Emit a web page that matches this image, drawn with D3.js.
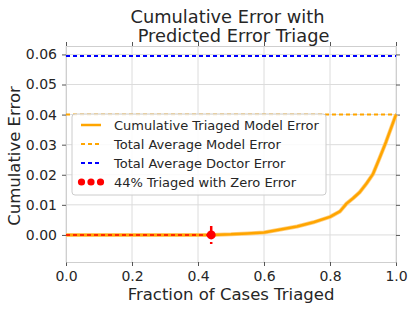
<!DOCTYPE html>
<html>
<head>
<meta charset="utf-8">
<script src="https://cdn.jsdelivr.net/npm/d3@7"></script>
<style>
  body { margin: 0; background: #fff; }
  text { font-family: "DejaVu Sans", sans-serif; fill: #262626; }
</style>
</head>
<body>
<div class="container"></div>
<script>
// data
const fraction = [0, 0.44, 0.5, 0.55, 0.6, 0.65, 0.7, 0.75, 0.8, 0.83, 0.85, 0.87, 0.89, 0.91, 0.93, 0.95, 0.97, 0.99, 1.0]
const cumError = [0, 0, 0.0002, 0.0005, 0.0008, 0.0018, 0.0028, 0.0042, 0.006, 0.0078, 0.0104, 0.0122, 0.0142, 0.017, 0.0202, 0.0255, 0.031, 0.037, 0.040]
const avgModelError = 0.040
const avgDoctorError = 0.0595
const triagedFraction = 0.44
const triagedSpread = 0.003
const xTicks = [0, 0.2, 0.4, 0.6, 0.8, 1.0]
const yTicks = [0, 0.01, 0.02, 0.03, 0.04, 0.05, 0.06]
const legendLabels = ["Cumulative Triaged Model Error", "Total Average Model Error", "Total Average Doctor Error", "44% Triaged with Zero Error"]

const width = 415, height = 312
const m = {left: 66, right: 19, top: 46, bottom: 50}

const svg = d3.select(".container").append("svg")
    .attr("width", width)
    .attr("height", height)

const x = d3.scaleLinear().domain([0, 1]).range([m.left, width - m.right])
const y = d3.scaleLinear().domain([-0.009, 0.0628]).range([height - m.bottom, m.top])

const grid = "#dcdcdc"
const tickCol = "#555"

// grid lines
svg.append("g").selectAll("line").data(xTicks).enter().append("line")
    .attr("x1", d => x(d)).attr("x2", d => x(d))
    .attr("y1", y.range()[1]).attr("y2", y.range()[0])
    .attr("stroke", grid)
svg.append("g").selectAll("line").data(yTicks).enter().append("line")
    .attr("x1", x.range()[0]).attr("x2", x.range()[1])
    .attr("y1", d => y(d)).attr("y2", d => y(d))
    .attr("stroke", grid)

// axes
const styleAxis = g => {
    g.select(".domain").attr("stroke", "#cfcfcf")
    g.selectAll(".tick line").attr("stroke", tickCol)
    g.selectAll(".tick text").style("font-size", "14px").attr("fill", "#262626")
}
svg.append("g").attr("transform", `translate(0,${y.range()[0]})`)
    .call(d3.axisBottom(x).tickValues(xTicks).tickFormat(d3.format(".1f")).tickSizeInner(4).tickSizeOuter(0).tickPadding(5))
    .call(styleAxis)
svg.append("g").attr("transform", `translate(0,${y.range()[1]})`)
    .call(d3.axisTop(x).tickValues(xTicks).tickFormat("").tickSizeInner(4).tickSizeOuter(0))
    .call(styleAxis)
svg.append("g").attr("transform", `translate(${x.range()[0]},0)`)
    .call(d3.axisLeft(y).tickValues(yTicks).tickFormat(d3.format(".2f")).tickSizeInner(4).tickSizeOuter(0).tickPadding(5))
    .call(styleAxis)
svg.append("g").attr("transform", `translate(${x.range()[1]},0)`)
    .call(d3.axisRight(y).tickValues(yTicks).tickFormat("").tickSizeInner(4).tickSizeOuter(0))
    .call(styleAxis)

// reference lines
svg.append("line")
    .attr("x1", x(0)).attr("x2", x(1))
    .attr("y1", y(avgDoctorError)).attr("y2", y(avgDoctorError))
    .attr("stroke", "blue").attr("stroke-width", 2).attr("stroke-dasharray", "4,3")
svg.append("line")
    .attr("x1", x(0)).attr("x2", x(1))
    .attr("y1", y(avgModelError)).attr("y2", y(avgModelError))
    .attr("stroke", "orange").attr("stroke-width", 2).attr("stroke-dasharray", "4,3")

// cumulative curve
const line = d3.line().x(d => x(d[0])).y(d => y(d[1]))
const pts = fraction.map((f, i) => [f, cumError[i]])
svg.append("path").datum(pts).attr("d", line)
    .attr("fill", "none").attr("stroke", "#ffcf80").attr("stroke-width", 4).attr("stroke-linejoin", "round")
svg.append("path").datum(pts).attr("d", line)
    .attr("fill", "none").attr("stroke", "orange").attr("stroke-width", 2.5).attr("stroke-linejoin", "round")

// triaged with zero error
svg.append("line")
    .attr("x1", x(0)).attr("x2", x(triagedFraction))
    .attr("y1", y(0)).attr("y2", y(0))
    .attr("stroke", "red").attr("stroke-width", 1.5).attr("stroke-dasharray", "4,3")
svg.append("line")
    .attr("x1", x(triagedFraction)).attr("x2", x(triagedFraction))
    .attr("y1", y(triagedSpread)).attr("y2", y(-triagedSpread))
    .attr("stroke", "red").attr("stroke-width", 2.5).attr("stroke-dasharray", "5,3")
svg.append("circle")
    .attr("cx", x(triagedFraction)).attr("cy", y(0)).attr("r", 4.5)
    .attr("fill", "red")

// legend
const lg = svg.append("g")
lg.append("rect")
    .attr("x", 72).attr("y", 114).attr("width", 254).attr("height", 81).attr("rx", 3)
    .attr("fill", "white").attr("fill-opacity", 0.85).attr("stroke", "#cccccc")
const rowY = [125, 144, 163, 182]
legendLabels.forEach((t, i) => {
    lg.append("text").attr("x", 114).attr("y", rowY[i]).attr("dy", "0.35em")
        .style("font-size", "13px").text(t)
})
lg.append("line").attr("x1", 81).attr("x2", 101).attr("y1", rowY[0]).attr("y2", rowY[0])
    .attr("stroke", "orange").attr("stroke-width", 2.5)
lg.append("line").attr("x1", 81).attr("x2", 101).attr("y1", rowY[1]).attr("y2", rowY[1])
    .attr("stroke", "orange").attr("stroke-width", 2).attr("stroke-dasharray", "4,3")
lg.append("line").attr("x1", 81).attr("x2", 101).attr("y1", rowY[2]).attr("y2", rowY[2])
    .attr("stroke", "blue").attr("stroke-width", 2).attr("stroke-dasharray", "4,3")
lg.selectAll("circle.mk").data([81.5, 91, 100.5]).enter().append("circle")
    .attr("cx", d => d).attr("cy", rowY[3]).attr("r", 3.6).attr("fill", "red")

// titles
svg.append("text").attr("x", 227.5).attr("y", 23).attr("text-anchor", "middle")
    .style("font-size", "17.8px").text("Cumulative Error with")
svg.append("text").attr("x", 233.5).attr("y", 42).attr("text-anchor", "middle")
    .style("font-size", "17.8px").text("Predicted Error Triage")
svg.append("text").attr("x", x(0.5)).attr("y", 300).attr("text-anchor", "middle")
    .style("font-size", "16.5px").text("Fraction of Cases Triaged")
svg.append("text").attr("transform", `translate(20,156) rotate(-90)`).attr("text-anchor", "middle")
    .style("font-size", "16.5px").text("Cumulative Error")
</script>
</body>
</html>
